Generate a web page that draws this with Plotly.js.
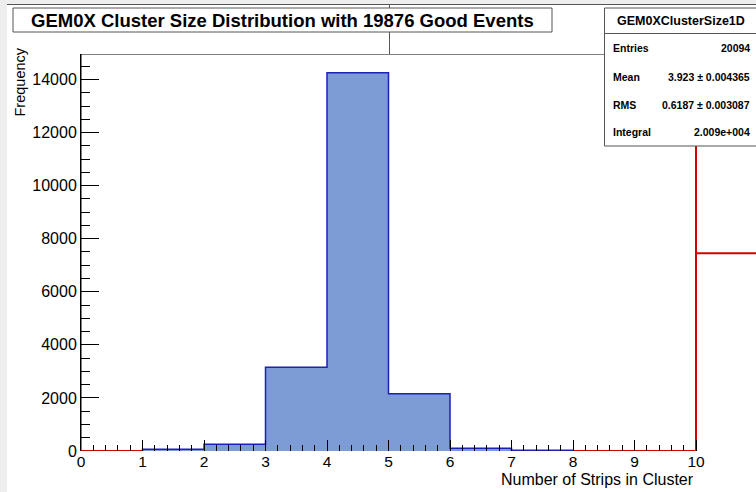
<!DOCTYPE html>
<html>
<head>
<meta charset="utf-8">
<script src="https://cdn.plot.ly/plotly-3.0.1.min.js"></script>
<style>
  html, body { margin: 0; padding: 0; background: #ffffff; }
  #chart { width: 756px; height: 492px; }
</style>
</head>
<body>
<div id="chart"></div>
<script>
// Cluster size histogram: unit-width bins from 0 to 10 strips
const binEdges = [0, 1, 2, 3, 4, 5, 6, 7, 8, 9, 10];
const clusterCounts = [0, 65, 250, 3155, 14250, 2160, 100, 25, 0, 0];

// Red overlay outline running along the baseline and up the x = 10 edge
const overlayX = [0, 10, 10, 10, 11];
const overlayY = [0, 0, 16000, 7450, 7450];

// Axis ticks
const xTickVals = [0, 1, 2, 3, 4, 5, 6, 7, 8, 9, 10];
const xTickText = ['0', '1', '2', '3', '4', '5', '6', '7', '8', '9', '10'];

// Statistics box
const statsName = 'GEM0XClusterSize1D';
const statsLabels = ['Entries', 'Mean', 'RMS', 'Integral'];
const statsValues = ['20094', '3.923 \u00b1 0.004365', '0.6187 \u00b1 0.003087', '2.009e+004'];

const titleText = 'GEM0X Cluster Size Distribution with 19876 Good Events';
const xTitle = 'Number of Strips in Cluster';
const yTitle = 'Frequency';

// ---- geometry of the page (pixels) ----
const W = 756, H = 492;
const plotL = 81, plotR = 756, plotT = 54, plotB = 451;
const frameRightPx = 696;
const yTop = 14960;
const xMax = binEdges[binEdges.length - 1];
const xRangeMax = xMax * (plotR - plotL) / (frameRightPx - plotL);

const xp = px => (px - plotL) / (plotR - plotL);
const yp = py => (plotB - py) / (plotB - plotT);

// Step outline of the filled histogram over its non-empty bins
function stepPath(edges, counts) {
  let first = counts.findIndex(v => v > 0);
  let last = counts.length - 1;
  while (last >= 0 && counts[last] <= 0) last--;
  const xs = [edges[first]], ys = [0];
  for (let i = first; i <= last; i++) { xs.push(edges[i]); ys.push(counts[i]); }
  xs.push(edges[last + 1]); ys.push(0);
  return { xs, ys };
}
const hist = stepPath(binEdges, clusterCounts);

const minorX = [];
for (let i = 0; i < xMax; i++) {
  for (let k = 1; k < 5; k++) minorX.push(+(i + k * 0.2).toFixed(2));
}

const FONT = 'Liberation Sans, Arial, Helvetica, sans-serif';

const traces = [
  {
    x: overlayX, y: overlayY, mode: 'lines', type: 'scatter',
    line: { color: '#d40000', width: 2 },
    hoverinfo: 'skip', showlegend: false
  },
  {
    x: hist.xs, y: hist.ys, mode: 'lines', type: 'scatter',
    line: { shape: 'hv', color: '#1c22b4', width: 1.5 },
    fill: 'tozeroy', fillcolor: '#7d9bd4',
    hoverinfo: 'skip', showlegend: false
  }
];

const titleBox = { left: 13, right: 552, top: 8, bottom: 32 };

const shapes = [
  // light margin at the left and top of the canvas
  { type: 'rect', xref: 'paper', yref: 'paper', x0: xp(0), x1: xp(7), y0: yp(H), y1: yp(0),
    fillcolor: '#eeeeee', line: { width: 0 }, layer: 'above' },
  { type: 'rect', xref: 'paper', yref: 'paper', x0: xp(0), x1: xp(W), y0: yp(4.5), y1: yp(0),
    fillcolor: '#eeeeee', line: { width: 0 }, layer: 'above' },
  { type: 'line', xref: 'paper', yref: 'paper', x0: xp(7), x1: xp(W), y0: yp(4.5), y1: yp(4.5),
    line: { color: '#555555', width: 1 }, layer: 'above' },
  // divider line from the top border to the frame
  { type: 'line', xref: 'paper', yref: 'paper', x0: xp(389.5), x1: xp(389.5), y0: yp(4.5), y1: yp(plotT),
    line: { color: '#555555', width: 1 }, layer: 'above' },
  // frame
  { type: 'rect', xref: 'x', yref: 'y', x0: 0, x1: xMax, y0: 0, y1: yTop,
    line: { color: '#000000', width: 1 }, layer: 'below' },
  // title box
  { type: 'rect', xref: 'paper', yref: 'paper', x0: xp(titleBox.left), x1: xp(titleBox.right),
    y0: yp(titleBox.bottom), y1: yp(titleBox.top),
    fillcolor: '#ffffff', line: { color: '#555555', width: 1 }, layer: 'above' },
  // statistics box
  { type: 'rect', xref: 'paper', yref: 'paper', x0: xp(604.5), x1: xp(760), y0: yp(146), y1: yp(8),
    fillcolor: '#ffffff', line: { color: '#555555', width: 1 }, layer: 'above' },
  { type: 'line', xref: 'paper', yref: 'paper', x0: xp(604.5), x1: xp(W), y0: yp(33.5), y1: yp(33.5),
    line: { color: '#555555', width: 1 }, layer: 'above' }
];

const annotations = [
  { text: '<b>' + titleText + '</b>', xref: 'paper', yref: 'paper',
    x: xp((titleBox.left + titleBox.right) / 2), y: yp(20.5),
    xanchor: 'center', yanchor: 'middle', showarrow: false,
    font: { family: FONT, size: 18.5, color: '#000000' } },
  { text: '<b>' + statsName + '</b>', xref: 'paper', yref: 'paper', x: xp(681), y: yp(21.5),
    xanchor: 'center', yanchor: 'middle', showarrow: false,
    font: { family: FONT, size: 12.5, color: '#000000' } },
  { text: xTitle, xref: 'paper', yref: 'paper', x: xp(696), y: yp(479.5),
    xanchor: 'right', yanchor: 'middle', showarrow: false,
    font: { family: FONT, size: 16, color: '#000000' } },
  { text: yTitle, xref: 'paper', yref: 'paper', x: xp(19), y: yp(46), textangle: -90,
    xanchor: 'center', yanchor: 'top', showarrow: false,
    font: { family: FONT, size: 14.5, color: '#000000' } }
];
const rowY = [48.5, 76.5, 104.5, 132];
statsLabels.forEach((lab, i) => {
  annotations.push({ text: '<b>' + lab + '</b>', xref: 'paper', yref: 'paper', x: xp(611), y: yp(rowY[i]),
    xanchor: 'left', yanchor: 'middle', showarrow: false,
    font: { family: FONT, size: 10.5, color: '#000000' } });
  annotations.push({ text: '<b>' + statsValues[i] + '</b>', xref: 'paper', yref: 'paper', x: xp(752), y: yp(rowY[i]),
    xanchor: 'right', yanchor: 'middle', showarrow: false,
    font: { family: FONT, size: 10.5, color: '#000000' } });
});

const layout = {
  width: W, height: H,
  margin: { l: plotL, r: W - plotR, t: plotT, b: H - plotB, pad: 0 },
  paper_bgcolor: '#ffffff', plot_bgcolor: '#ffffff',
  showlegend: false,
  font: { family: FONT, size: 16, color: '#000000' },
  xaxis: {
    range: [0, xRangeMax], showgrid: false, zeroline: false, showline: false,
    tickmode: 'array', tickvals: xTickVals, ticktext: xTickText,
    ticks: 'inside', ticklen: 11, tickwidth: 1, tickcolor: '#000000',
    minor: { tickmode: 'array', tickvals: minorX, ticks: 'inside', ticklen: 6, tickwidth: 1, tickcolor: '#000000', showgrid: false },
    tickfont: { family: FONT, size: 15.5, color: '#000000' },
    ticklabelstandoff: -1,
    automargin: false, fixedrange: true
  },
  yaxis: {
    range: [0, yTop], showgrid: false, zeroline: false,
    showline: true, linecolor: '#000000', linewidth: 1,
    tickmode: 'linear', tick0: 0, dtick: 2000, tickformat: 'd',
    ticks: 'inside', ticklen: 18, tickwidth: 1, tickcolor: '#000000',
    minor: { dtick: 500, ticks: 'inside', ticklen: 9, tickwidth: 1, tickcolor: '#000000', showgrid: false },
    tickfont: { family: FONT, size: 16, color: '#000000' },
    automargin: false, fixedrange: true
  },
  shapes: shapes,
  annotations: annotations
};

Plotly.newPlot('chart', traces, layout, { staticPlot: true, displayModeBar: false });
</script>
</body>
</html>
